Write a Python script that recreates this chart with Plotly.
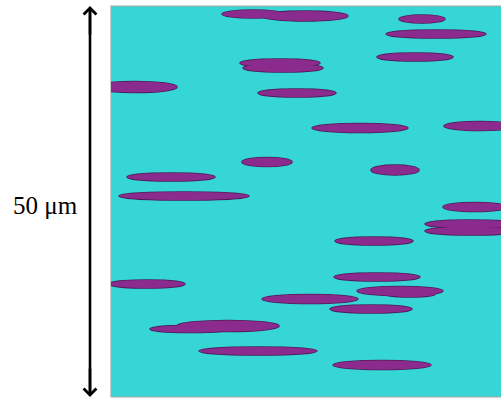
import plotly.graph_objects as go

# ellipse centres / half-axes (in image units, origin at top-left of the square)
cx = [142, 194, 311, 325, 304, 169, 172, 24, 186, 249, 369, 156, 284, 60, 73,
      364, 359, 359, 263, 266, 289, 299, 199, 260, 79, 117, 36, 147, 271]
cy = [8, 10, 13, 28, 51, 57, 62, 81, 87, 122, 120, 156, 164, 171, 190,
      201, 218, 225, 235, 271, 285, 288, 293, 303, 323, 320, 278, 345, 359]
rx = [31, 43, 23, 50, 38, 40, 40, 42, 39, 48, 36, 25, 24, 44, 65,
      32, 45, 45, 39, 43, 43, 25, 48, 41, 40, 51, 38, 59, 49]
ry = [4, 5, 4, 4, 4, 4, 4, 5.5, 4, 4.5, 4.5, 4.5, 5, 4, 4,
      4.5, 4, 4, 4, 4, 4.5, 3, 4.5, 4, 3.5, 5.5, 4, 4, 4.5]

scale_label = "50 μm"
width_units = 390
height_units = 391

fig = go.Figure()
fig.add_trace(go.Scatter(x=[], y=[]))

shapes = []
# square border
shapes.append(dict(type="rect", xref="paper", yref="paper", x0=0, x1=1.02, y0=0, y1=1,
                   line=dict(color="#A8A8A8", width=1.2), fillcolor="rgba(0,0,0,0)", layer="below"))
# outline pass (outer edge of the union)
for x, y, a, b in zip(cx, cy, rx, ry):
    shapes.append(dict(type="circle", xref="x", yref="y",
                       x0=x - a, x1=x + a, y0=y - b, y1=y + b,
                       fillcolor="#8C2B8E", line=dict(color="#4E1C58", width=1.6)))
# fill pass
for x, y, a, b in zip(cx, cy, rx, ry):
    shapes.append(dict(type="circle", xref="x", yref="y",
                       x0=x - a, x1=x + a, y0=y - b, y1=y + b,
                       fillcolor="#8C2B8E", line=dict(width=0)))

ax_x = -21 / 390
# arrow shaft
shapes.append(dict(type="line", xref="paper", yref="paper", x0=ax_x, x1=ax_x,
                   y0=0.01, y1=0.99, line=dict(color="black", width=2.6)))

annotations = [
    dict(xref="paper", yref="paper", x=ax_x, y=1, ax=0, ay=30, text="",
         showarrow=True, arrowhead=4, arrowsize=0.95, arrowwidth=2.6, arrowcolor="black"),
    dict(xref="paper", yref="paper", x=ax_x, y=0, ax=0, ay=-30, text="",
         showarrow=True, arrowhead=4, arrowsize=0.95, arrowwidth=2.6, arrowcolor="black"),
    dict(xref="paper", yref="paper", x=-66 / 390, y=(397 - 205) / 391, text=scale_label,
         showarrow=False, xanchor="center", yanchor="middle",
         font=dict(family="Liberation Serif", size=25, color="black")),
]

fig.update_layout(
    width=501, height=401,
    margin=dict(l=111, r=0, t=6, b=4),
    paper_bgcolor="white", plot_bgcolor="#36D6D6",
    xaxis=dict(range=[0, width_units], visible=False, fixedrange=True),
    yaxis=dict(range=[height_units, 0], visible=False, fixedrange=True),
    shapes=shapes, annotations=annotations, showlegend=False,
)
fig.write_html("out.html", config={"displayModeBar": False},
               post_script="document.body.style.margin='0';document.body.style.padding='0';")
